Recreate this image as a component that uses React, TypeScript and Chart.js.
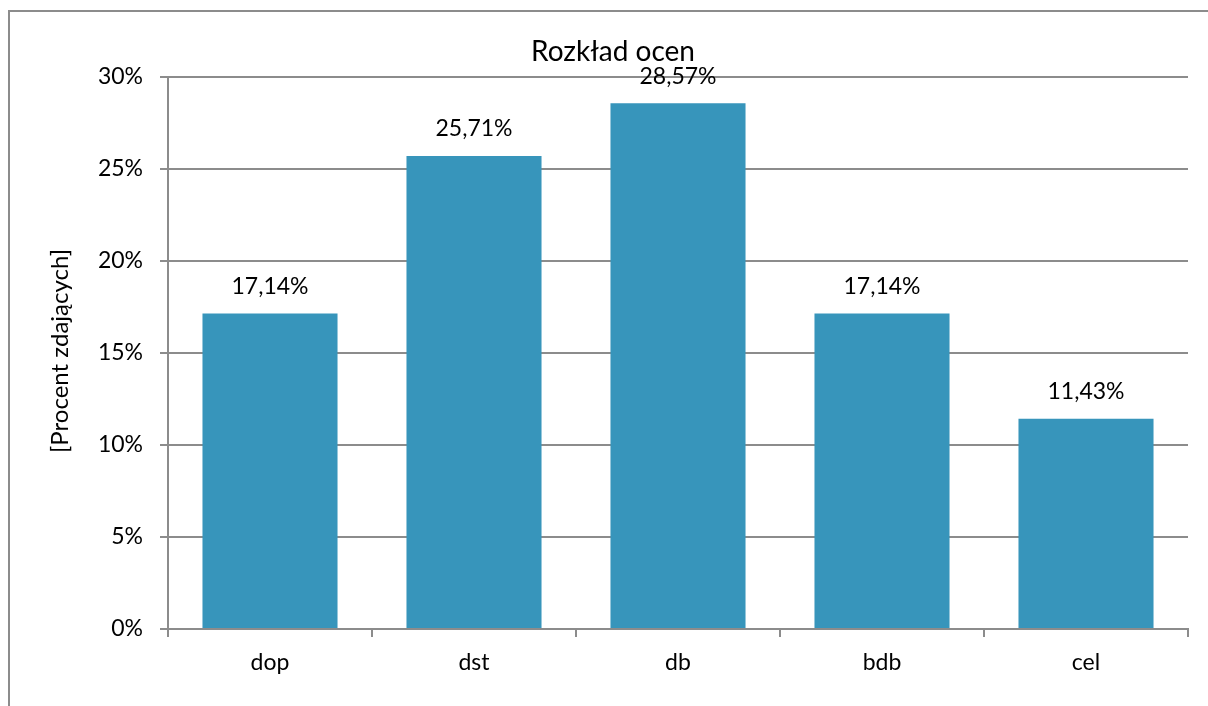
import React, { useEffect, useRef } from "react";
import { Chart, registerables } from "chart.js";

Chart.register(...registerables);

const categories = ["dop", "dst", "db", "bdb", "cel"];
const values = [17.14, 25.71, 28.57, 17.14, 11.43];
const yTicks = [0, 5, 10, 15, 20, 25, 30];
const chartTitle = "Rozkład ocen";
const yAxisTitle = "[Procent zdających]";

const FONT = "Lato, 'Open Sans', sans-serif";
const GRID = "#8c8c8c";
const BAR = "#3795bb";

export default function App() {
  const ref = useRef<HTMLCanvasElement | null>(null);

  useEffect(() => {
    if (!ref.current) return;
    const deco = {
      id: "deco",
      beforeDraw(chart: any) {
        const ctx = chart.ctx;
        ctx.save();
        ctx.fillStyle = "#fff";
        ctx.fillRect(0, 0, chart.width, chart.height);
        ctx.strokeStyle = GRID;
        ctx.lineWidth = 2;
        ctx.strokeRect(9, 11, chart.width + 20, chart.height + 20);
        ctx.restore();
      },
      afterDraw(chart: any) {
        const ctx = chart.ctx;
        const ca = chart.chartArea;
        ctx.save();
        ctx.fillStyle = "#000";
        ctx.textAlign = "center";
        ctx.textBaseline = "middle";
        ctx.font = `28px ${FONT}`;
        ctx.fillText(chartTitle, 613, 52);
        // data labels
        const meta = chart.getDatasetMeta(0);
        ctx.font = `23px ${FONT}`;
        meta.data.forEach((bar: any, i: number) => {
          const txt = values[i].toFixed(2).replace(".", ",") + "%";
          ctx.fillText(txt, bar.x, bar.y - 27);
        });
        // y axis title
        ctx.font = `24px ${FONT}`;
        ctx.translate(60, 351);
        ctx.rotate(-Math.PI / 2);
        ctx.fillText(yAxisTitle, 0, 0);
        ctx.restore();
      },
    };

    const chart = new Chart(ref.current, {
      type: "bar",
      data: {
        labels: categories,
        datasets: [
          {
            data: values,
            backgroundColor: BAR,
            borderWidth: 0,
            barPercentage: 0.662,
            categoryPercentage: 1,
          },
        ],
      },
      options: {
        responsive: false,
        animation: false,
        layout: { padding: { left: 0, top: 77, right: 20, bottom: 0 } },
        plugins: {
          legend: { display: false },
          title: { display: false },
          tooltip: { enabled: false },
        },
        scales: {
          x: {
            afterFit(scale: any) {
              scale.height = 77;
            },
            grid: {
              display: true,
              drawOnChartArea: false,
              drawTicks: true,
              tickLength: 8,
              color: GRID,
              lineWidth: 2,
              offset: true,
            },
            border: { display: true, color: GRID, width: 2 },
            ticks: {
              color: "#000",
              font: { family: FONT, size: 23 },
              padding: 12,
            },
          },
          y: {
            min: 0,
            max: 30,
            afterFit(scale: any) {
              scale.width = 168;
            },
            afterBuildTicks(scale: any) {
              scale.ticks = yTicks.map((v) => ({ value: v }));
            },
            grid: {
              display: true,
              drawTicks: true,
              tickLength: 8,
              color: GRID,
              lineWidth: 2,
            },
            border: { display: true, color: GRID, width: 2 },
            ticks: {
              color: "#000",
              font: { family: FONT, size: 23 },
              padding: 17,
              callback: (v: any) => v + "%",
            },
          },
        },
      },
      plugins: [deco],
    });
    return () => chart.destroy();
  }, []);

  return (
    <div style={{ position: "absolute", left: 0, top: 0, width: 1208, height: 706 }}>
      <canvas ref={ref} width={1208} height={706} />
    </div>
  );
}
